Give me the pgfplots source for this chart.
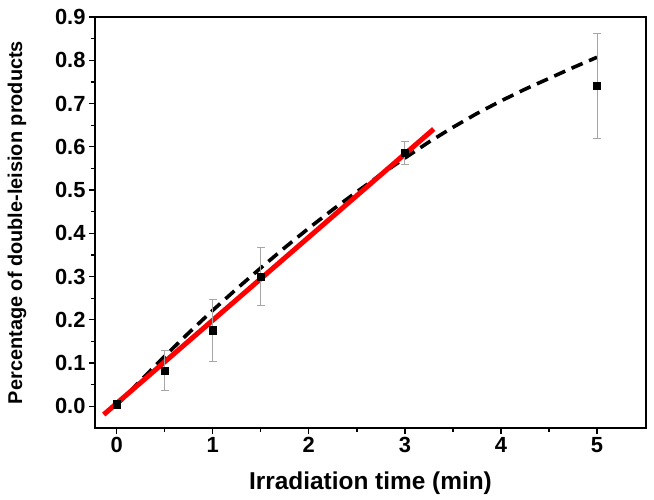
\documentclass[border=0pt]{standalone}
\usepackage{pgfplots}
\usepackage{fontspec}
\setmainfont{Liberation Sans}
\pgfplotsset{compat=1.18}

\begin{document}
\begin{tikzpicture}
\begin{axis}[
    scale only axis,
    width=551bp, height=411bp,
    xmin=-0.226, xmax=5.51,
    ymin=-0.05, ymax=0.9,
    xtick={0,1,2,3,4,5},
    minor xtick={0.5,1.5,2.5,3.5,4.5},
    ytick={0,0.1,...,0.9},
    minor ytick={0.05,0.15,...,0.85},
    tick align=outside, tick pos=left,
    major tick length=6bp, minor tick length=4bp,
    every tick/.style={black, line width=1.3bp},
    axis line style={line width=1.8bp},
    tick label style={font=\fontsize{22}{24}\selectfont\bfseries},
    yticklabel style={/pgf/number format/.cd, fixed, fixed zerofill, precision=1, assume math mode=true},
    xticklabel style={/pgf/number format/assume math mode=true},
    xlabel={Irradiation time (min)},
    ylabel={Percentage of double-leision products},
    xlabel style={font=\fontsize{24.5}{26}\selectfont\bfseries,
        at={(rel axis cs:0.5,0)}, anchor=center, yshift=-55bp},
    ylabel style={font=\fontsize{20}{22}\selectfont\bfseries,
        at={(rel axis cs:0,0.5)}, anchor=center, yshift=78bp},
    clip=false,
]
\coordinate (o) at (rel axis cs:0,0);
% saturating fit (dashed)
\addplot[black, line width=3.6bp, dash pattern=on 12bp off 7bp] coordinates {
    (0,0.003) (0.25,0.060) (0.5,0.116) (0.75,0.170) (1,0.222) (1.25,0.272)
    (1.5,0.320) (1.75,0.367) (2,0.412) (2.25,0.455) (2.5,0.496) (2.75,0.536)
    (3,0.574) (3.25,0.611) (3.5,0.645) (3.75,0.677) (4,0.706) (4.25,0.733)
    (4.5,0.758) (4.75,0.783) (5,0.807)
};
% linear fit (red)
\addplot[red, line width=5bp] coordinates {(-0.135,-0.019) (3.30,0.641)};
% data with error bars
\addplot[only marks, mark=square*, mark size=3.6bp, black,
    error bars/.cd, y dir=both, y explicit,
    error bar style={gray!70, line width=0.8bp},
    error mark options={rotate=90, mark size=4bp, gray!70, line width=0.8bp}]
    coordinates {
    (0,0.005) +- (0,0.004)
    (0.5,0.083) +- (0,0.047)
    (1,0.176) +- (0,0.072)
    (1.5,0.300) +- (0,0.067)
    (3,0.586) +- (0,0.027)
    (5,0.741) +- (0,0.121)
};
\end{axis}
\pgfresetboundingbox
\path[use as bounding box] (o) ++(-95bp,-72bp) rectangle ++(654bp,500bp);
\end{tikzpicture}
\end{document}
